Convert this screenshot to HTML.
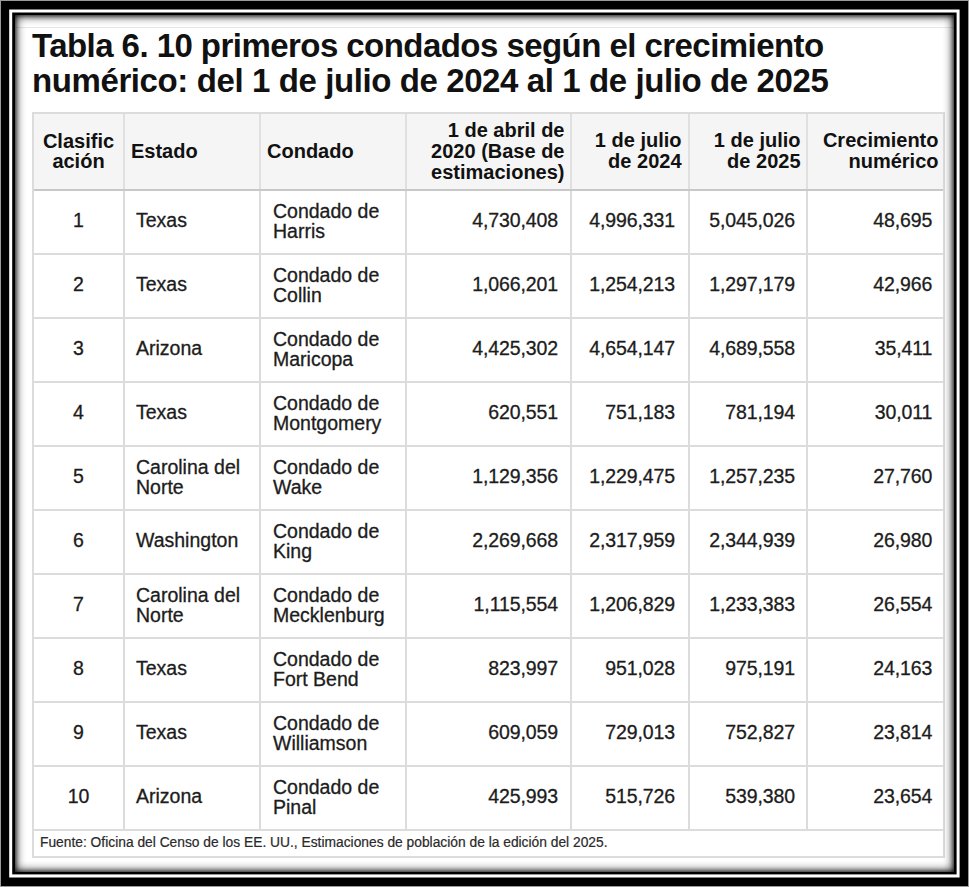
<!DOCTYPE html>
<html><head><meta charset="utf-8"><style>
html,body{margin:0;padding:0;}
body{width:969px;height:887px;overflow:hidden;position:relative;background:#9a9a9a;font-family:"Liberation Sans",sans-serif;}
.r{position:absolute;}
.t{position:absolute;white-space:nowrap;}
.d{-webkit-text-stroke:0.3px currentColor;}
#sh{position:absolute;left:15px;top:15px;width:939px;height:857px;box-shadow:inset 0 0 10px 1px rgba(0,0,0,0.9), inset 0 0 4px 0px rgba(0,0,0,0.75);z-index:5;}
</style></head><body>
<svg width="969" height="887" style="position:absolute;left:0;top:0" shape-rendering="geometricPrecision">
<rect x="0" y="0" width="969" height="887" fill="#9a9a9a"/>
<rect x="1" y="1" width="967" height="885" fill="#000"/>
<rect x="9.2" y="9.5" width="950.4" height="868.0" fill="#fff"/>
<rect x="12.2" y="12.5" width="944.4" height="861.9" fill="#000"/>
<rect x="15" y="15" width="939" height="857" fill="#fff"/>
</svg>
<div class="r" style="left:15px;top:27px;width:939px;height:1px;background:#e6e6e6;"></div>
<div class="t" style="top:27.67px;font-size:33px;line-height:35px;font-weight:bold;color:#111;left:32px;letter-spacing:-0.55px;">Tabla 6. 10 primeros condados según el crecimiento</div>
<div class="t" style="top:62.87px;font-size:33px;line-height:35px;font-weight:bold;color:#111;left:32px;letter-spacing:-0.4px;">numérico: del 1 de julio de 2024 al 1 de julio de 2025</div>
<div class="r" style="left:32px;top:112px;width:913px;height:78px;background:#f5f5f5;"></div>
<div class="r" style="left:32px;top:112px;width:913px;height:2px;background:#dcdcdc;"></div>
<div class="r" style="left:32px;top:189px;width:913px;height:2px;background:#c8c8c8;"></div>
<div class="r" style="left:32px;top:253px;width:913px;height:2px;background:#dcdcdc;"></div>
<div class="r" style="left:32px;top:317px;width:913px;height:2px;background:#dcdcdc;"></div>
<div class="r" style="left:32px;top:381px;width:913px;height:2px;background:#dcdcdc;"></div>
<div class="r" style="left:32px;top:445px;width:913px;height:2px;background:#dcdcdc;"></div>
<div class="r" style="left:32px;top:509px;width:913px;height:2px;background:#dcdcdc;"></div>
<div class="r" style="left:32px;top:573px;width:913px;height:2px;background:#dcdcdc;"></div>
<div class="r" style="left:32px;top:637px;width:913px;height:2px;background:#dcdcdc;"></div>
<div class="r" style="left:32px;top:701px;width:913px;height:2px;background:#dcdcdc;"></div>
<div class="r" style="left:32px;top:765px;width:913px;height:2px;background:#dcdcdc;"></div>
<div class="r" style="left:32px;top:829px;width:913px;height:2px;background:#dcdcdc;"></div>
<div class="r" style="left:32px;top:856px;width:913px;height:2px;background:#dcdcdc;"></div>
<div class="r" style="left:123px;top:114px;width:2px;height:75px;background:#e0e0e0;"></div>
<div class="r" style="left:123px;top:191px;width:2px;height:640px;background:#dcdcdc;"></div>
<div class="r" style="left:259px;top:114px;width:2px;height:75px;background:#e0e0e0;"></div>
<div class="r" style="left:259px;top:191px;width:2px;height:640px;background:#dcdcdc;"></div>
<div class="r" style="left:405px;top:114px;width:2px;height:75px;background:#e0e0e0;"></div>
<div class="r" style="left:405px;top:191px;width:2px;height:640px;background:#dcdcdc;"></div>
<div class="r" style="left:570px;top:114px;width:2px;height:75px;background:#e0e0e0;"></div>
<div class="r" style="left:570px;top:191px;width:2px;height:640px;background:#dcdcdc;"></div>
<div class="r" style="left:688px;top:114px;width:2px;height:75px;background:#e0e0e0;"></div>
<div class="r" style="left:688px;top:191px;width:2px;height:640px;background:#dcdcdc;"></div>
<div class="r" style="left:806px;top:114px;width:2px;height:75px;background:#e0e0e0;"></div>
<div class="r" style="left:806px;top:191px;width:2px;height:640px;background:#dcdcdc;"></div>
<div class="r" style="left:32px;top:112px;width:2px;height:746px;background:#dcdcdc;"></div>
<div class="r" style="left:943px;top:112px;width:2px;height:746px;background:#dcdcdc;"></div>
<div class="t" style="top:130.97px;font-size:20px;line-height:21px;font-weight:bold;color:#111;left:-21.5px;width:200px;text-align:center;">Clasific</div>
<div class="t" style="top:151.37px;font-size:20px;line-height:21px;font-weight:bold;color:#111;left:-21.5px;width:200px;text-align:center;">ación</div>
<div class="t" style="top:141.17px;font-size:20px;line-height:21px;font-weight:bold;color:#111;left:131px;">Estado</div>
<div class="t" style="top:141.17px;font-size:20px;line-height:21px;font-weight:bold;color:#111;left:267px;">Condado</div>
<div class="t" style="top:119.97px;font-size:20px;line-height:21px;font-weight:bold;color:#111;right:404.5px;text-align:right;">1 de abril de</div>
<div class="t" style="top:140.97px;font-size:20px;line-height:21px;font-weight:bold;color:#111;right:404.5px;text-align:right;">2020 (Base de</div>
<div class="t" style="top:161.97px;font-size:20px;line-height:21px;font-weight:bold;color:#111;right:404.5px;text-align:right;">estimaciones)</div>
<div class="t" style="top:130.47px;font-size:20px;line-height:21px;font-weight:bold;color:#111;right:287.5px;text-align:right;">1 de julio</div>
<div class="t" style="top:151.47px;font-size:20px;line-height:21px;font-weight:bold;color:#111;right:287.5px;text-align:right;">de 2024</div>
<div class="t" style="top:130.47px;font-size:20px;line-height:21px;font-weight:bold;color:#111;right:168.5px;text-align:right;">1 de julio</div>
<div class="t" style="top:151.47px;font-size:20px;line-height:21px;font-weight:bold;color:#111;right:168.5px;text-align:right;">de 2025</div>
<div class="t" style="top:130.47px;font-size:20px;line-height:21px;font-weight:bold;color:#111;right:30.5px;text-align:right;">Crecimiento</div>
<div class="t" style="top:151.47px;font-size:20px;line-height:21px;font-weight:bold;color:#111;right:30.5px;text-align:right;">numérico</div>
<div class="t d" style="top:210.04px;font-size:19.5px;line-height:20px;font-weight:normal;color:#1c1c1c;left:-21.5px;width:200px;text-align:center;">1</div>
<div class="t d" style="top:210.04px;font-size:19.5px;line-height:20px;font-weight:normal;color:#1c1c1c;left:136px;">Texas</div>
<div class="t d" style="top:201.04px;font-size:19.5px;line-height:20px;font-weight:normal;color:#1c1c1c;left:273px;">Condado de</div>
<div class="t d" style="top:220.84px;font-size:19.5px;line-height:20px;font-weight:normal;color:#1c1c1c;left:273px;">Harris</div>
<div class="t d" style="top:210.04px;font-size:19.5px;line-height:20px;font-weight:normal;color:#1c1c1c;right:411px;text-align:right;letter-spacing:-0.1px;">4,730,408</div>
<div class="t d" style="top:210.04px;font-size:19.5px;line-height:20px;font-weight:normal;color:#1c1c1c;right:294px;text-align:right;letter-spacing:-0.1px;">4,996,331</div>
<div class="t d" style="top:210.04px;font-size:19.5px;line-height:20px;font-weight:normal;color:#1c1c1c;right:174px;text-align:right;letter-spacing:-0.1px;">5,045,026</div>
<div class="t d" style="top:210.04px;font-size:19.5px;line-height:20px;font-weight:normal;color:#1c1c1c;right:36.700000000000045px;text-align:right;letter-spacing:-0.1px;">48,695</div>
<div class="t d" style="top:274.04px;font-size:19.5px;line-height:20px;font-weight:normal;color:#1c1c1c;left:-21.5px;width:200px;text-align:center;">2</div>
<div class="t d" style="top:274.04px;font-size:19.5px;line-height:20px;font-weight:normal;color:#1c1c1c;left:136px;">Texas</div>
<div class="t d" style="top:265.04px;font-size:19.5px;line-height:20px;font-weight:normal;color:#1c1c1c;left:273px;">Condado de</div>
<div class="t d" style="top:284.84px;font-size:19.5px;line-height:20px;font-weight:normal;color:#1c1c1c;left:273px;">Collin</div>
<div class="t d" style="top:274.04px;font-size:19.5px;line-height:20px;font-weight:normal;color:#1c1c1c;right:411px;text-align:right;letter-spacing:-0.1px;">1,066,201</div>
<div class="t d" style="top:274.04px;font-size:19.5px;line-height:20px;font-weight:normal;color:#1c1c1c;right:294px;text-align:right;letter-spacing:-0.1px;">1,254,213</div>
<div class="t d" style="top:274.04px;font-size:19.5px;line-height:20px;font-weight:normal;color:#1c1c1c;right:174px;text-align:right;letter-spacing:-0.1px;">1,297,179</div>
<div class="t d" style="top:274.04px;font-size:19.5px;line-height:20px;font-weight:normal;color:#1c1c1c;right:36.700000000000045px;text-align:right;letter-spacing:-0.1px;">42,966</div>
<div class="t d" style="top:338.04px;font-size:19.5px;line-height:20px;font-weight:normal;color:#1c1c1c;left:-21.5px;width:200px;text-align:center;">3</div>
<div class="t d" style="top:338.04px;font-size:19.5px;line-height:20px;font-weight:normal;color:#1c1c1c;left:136px;">Arizona</div>
<div class="t d" style="top:329.04px;font-size:19.5px;line-height:20px;font-weight:normal;color:#1c1c1c;left:273px;">Condado de</div>
<div class="t d" style="top:348.84px;font-size:19.5px;line-height:20px;font-weight:normal;color:#1c1c1c;left:273px;">Maricopa</div>
<div class="t d" style="top:338.04px;font-size:19.5px;line-height:20px;font-weight:normal;color:#1c1c1c;right:411px;text-align:right;letter-spacing:-0.1px;">4,425,302</div>
<div class="t d" style="top:338.04px;font-size:19.5px;line-height:20px;font-weight:normal;color:#1c1c1c;right:294px;text-align:right;letter-spacing:-0.1px;">4,654,147</div>
<div class="t d" style="top:338.04px;font-size:19.5px;line-height:20px;font-weight:normal;color:#1c1c1c;right:174px;text-align:right;letter-spacing:-0.1px;">4,689,558</div>
<div class="t d" style="top:338.04px;font-size:19.5px;line-height:20px;font-weight:normal;color:#1c1c1c;right:36.700000000000045px;text-align:right;letter-spacing:-0.1px;">35,411</div>
<div class="t d" style="top:402.04px;font-size:19.5px;line-height:20px;font-weight:normal;color:#1c1c1c;left:-21.5px;width:200px;text-align:center;">4</div>
<div class="t d" style="top:402.04px;font-size:19.5px;line-height:20px;font-weight:normal;color:#1c1c1c;left:136px;">Texas</div>
<div class="t d" style="top:393.04px;font-size:19.5px;line-height:20px;font-weight:normal;color:#1c1c1c;left:273px;">Condado de</div>
<div class="t d" style="top:412.84px;font-size:19.5px;line-height:20px;font-weight:normal;color:#1c1c1c;left:273px;">Montgomery</div>
<div class="t d" style="top:402.04px;font-size:19.5px;line-height:20px;font-weight:normal;color:#1c1c1c;right:411px;text-align:right;letter-spacing:-0.1px;">620,551</div>
<div class="t d" style="top:402.04px;font-size:19.5px;line-height:20px;font-weight:normal;color:#1c1c1c;right:294px;text-align:right;letter-spacing:-0.1px;">751,183</div>
<div class="t d" style="top:402.04px;font-size:19.5px;line-height:20px;font-weight:normal;color:#1c1c1c;right:174px;text-align:right;letter-spacing:-0.1px;">781,194</div>
<div class="t d" style="top:402.04px;font-size:19.5px;line-height:20px;font-weight:normal;color:#1c1c1c;right:36.700000000000045px;text-align:right;letter-spacing:-0.1px;">30,011</div>
<div class="t d" style="top:466.04px;font-size:19.5px;line-height:20px;font-weight:normal;color:#1c1c1c;left:-21.5px;width:200px;text-align:center;">5</div>
<div class="t d" style="top:457.04px;font-size:19.5px;line-height:20px;font-weight:normal;color:#1c1c1c;left:136px;">Carolina del</div>
<div class="t d" style="top:476.84px;font-size:19.5px;line-height:20px;font-weight:normal;color:#1c1c1c;left:136px;">Norte</div>
<div class="t d" style="top:457.04px;font-size:19.5px;line-height:20px;font-weight:normal;color:#1c1c1c;left:273px;">Condado de</div>
<div class="t d" style="top:476.84px;font-size:19.5px;line-height:20px;font-weight:normal;color:#1c1c1c;left:273px;">Wake</div>
<div class="t d" style="top:466.04px;font-size:19.5px;line-height:20px;font-weight:normal;color:#1c1c1c;right:411px;text-align:right;letter-spacing:-0.1px;">1,129,356</div>
<div class="t d" style="top:466.04px;font-size:19.5px;line-height:20px;font-weight:normal;color:#1c1c1c;right:294px;text-align:right;letter-spacing:-0.1px;">1,229,475</div>
<div class="t d" style="top:466.04px;font-size:19.5px;line-height:20px;font-weight:normal;color:#1c1c1c;right:174px;text-align:right;letter-spacing:-0.1px;">1,257,235</div>
<div class="t d" style="top:466.04px;font-size:19.5px;line-height:20px;font-weight:normal;color:#1c1c1c;right:36.700000000000045px;text-align:right;letter-spacing:-0.1px;">27,760</div>
<div class="t d" style="top:530.04px;font-size:19.5px;line-height:20px;font-weight:normal;color:#1c1c1c;left:-21.5px;width:200px;text-align:center;">6</div>
<div class="t d" style="top:530.04px;font-size:19.5px;line-height:20px;font-weight:normal;color:#1c1c1c;left:136px;">Washington</div>
<div class="t d" style="top:521.04px;font-size:19.5px;line-height:20px;font-weight:normal;color:#1c1c1c;left:273px;">Condado de</div>
<div class="t d" style="top:540.84px;font-size:19.5px;line-height:20px;font-weight:normal;color:#1c1c1c;left:273px;">King</div>
<div class="t d" style="top:530.04px;font-size:19.5px;line-height:20px;font-weight:normal;color:#1c1c1c;right:411px;text-align:right;letter-spacing:-0.1px;">2,269,668</div>
<div class="t d" style="top:530.04px;font-size:19.5px;line-height:20px;font-weight:normal;color:#1c1c1c;right:294px;text-align:right;letter-spacing:-0.1px;">2,317,959</div>
<div class="t d" style="top:530.04px;font-size:19.5px;line-height:20px;font-weight:normal;color:#1c1c1c;right:174px;text-align:right;letter-spacing:-0.1px;">2,344,939</div>
<div class="t d" style="top:530.04px;font-size:19.5px;line-height:20px;font-weight:normal;color:#1c1c1c;right:36.700000000000045px;text-align:right;letter-spacing:-0.1px;">26,980</div>
<div class="t d" style="top:594.04px;font-size:19.5px;line-height:20px;font-weight:normal;color:#1c1c1c;left:-21.5px;width:200px;text-align:center;">7</div>
<div class="t d" style="top:585.04px;font-size:19.5px;line-height:20px;font-weight:normal;color:#1c1c1c;left:136px;">Carolina del</div>
<div class="t d" style="top:604.84px;font-size:19.5px;line-height:20px;font-weight:normal;color:#1c1c1c;left:136px;">Norte</div>
<div class="t d" style="top:585.04px;font-size:19.5px;line-height:20px;font-weight:normal;color:#1c1c1c;left:273px;">Condado de</div>
<div class="t d" style="top:604.84px;font-size:19.5px;line-height:20px;font-weight:normal;color:#1c1c1c;left:273px;">Mecklenburg</div>
<div class="t d" style="top:594.04px;font-size:19.5px;line-height:20px;font-weight:normal;color:#1c1c1c;right:411px;text-align:right;letter-spacing:-0.1px;">1,115,554</div>
<div class="t d" style="top:594.04px;font-size:19.5px;line-height:20px;font-weight:normal;color:#1c1c1c;right:294px;text-align:right;letter-spacing:-0.1px;">1,206,829</div>
<div class="t d" style="top:594.04px;font-size:19.5px;line-height:20px;font-weight:normal;color:#1c1c1c;right:174px;text-align:right;letter-spacing:-0.1px;">1,233,383</div>
<div class="t d" style="top:594.04px;font-size:19.5px;line-height:20px;font-weight:normal;color:#1c1c1c;right:36.700000000000045px;text-align:right;letter-spacing:-0.1px;">26,554</div>
<div class="t d" style="top:658.04px;font-size:19.5px;line-height:20px;font-weight:normal;color:#1c1c1c;left:-21.5px;width:200px;text-align:center;">8</div>
<div class="t d" style="top:658.04px;font-size:19.5px;line-height:20px;font-weight:normal;color:#1c1c1c;left:136px;">Texas</div>
<div class="t d" style="top:649.04px;font-size:19.5px;line-height:20px;font-weight:normal;color:#1c1c1c;left:273px;">Condado de</div>
<div class="t d" style="top:668.84px;font-size:19.5px;line-height:20px;font-weight:normal;color:#1c1c1c;left:273px;">Fort Bend</div>
<div class="t d" style="top:658.04px;font-size:19.5px;line-height:20px;font-weight:normal;color:#1c1c1c;right:411px;text-align:right;letter-spacing:-0.1px;">823,997</div>
<div class="t d" style="top:658.04px;font-size:19.5px;line-height:20px;font-weight:normal;color:#1c1c1c;right:294px;text-align:right;letter-spacing:-0.1px;">951,028</div>
<div class="t d" style="top:658.04px;font-size:19.5px;line-height:20px;font-weight:normal;color:#1c1c1c;right:174px;text-align:right;letter-spacing:-0.1px;">975,191</div>
<div class="t d" style="top:658.04px;font-size:19.5px;line-height:20px;font-weight:normal;color:#1c1c1c;right:36.700000000000045px;text-align:right;letter-spacing:-0.1px;">24,163</div>
<div class="t d" style="top:722.04px;font-size:19.5px;line-height:20px;font-weight:normal;color:#1c1c1c;left:-21.5px;width:200px;text-align:center;">9</div>
<div class="t d" style="top:722.04px;font-size:19.5px;line-height:20px;font-weight:normal;color:#1c1c1c;left:136px;">Texas</div>
<div class="t d" style="top:713.04px;font-size:19.5px;line-height:20px;font-weight:normal;color:#1c1c1c;left:273px;">Condado de</div>
<div class="t d" style="top:732.84px;font-size:19.5px;line-height:20px;font-weight:normal;color:#1c1c1c;left:273px;">Williamson</div>
<div class="t d" style="top:722.04px;font-size:19.5px;line-height:20px;font-weight:normal;color:#1c1c1c;right:411px;text-align:right;letter-spacing:-0.1px;">609,059</div>
<div class="t d" style="top:722.04px;font-size:19.5px;line-height:20px;font-weight:normal;color:#1c1c1c;right:294px;text-align:right;letter-spacing:-0.1px;">729,013</div>
<div class="t d" style="top:722.04px;font-size:19.5px;line-height:20px;font-weight:normal;color:#1c1c1c;right:174px;text-align:right;letter-spacing:-0.1px;">752,827</div>
<div class="t d" style="top:722.04px;font-size:19.5px;line-height:20px;font-weight:normal;color:#1c1c1c;right:36.700000000000045px;text-align:right;letter-spacing:-0.1px;">23,814</div>
<div class="t d" style="top:786.04px;font-size:19.5px;line-height:20px;font-weight:normal;color:#1c1c1c;left:-21.5px;width:200px;text-align:center;">10</div>
<div class="t d" style="top:786.04px;font-size:19.5px;line-height:20px;font-weight:normal;color:#1c1c1c;left:136px;">Arizona</div>
<div class="t d" style="top:777.04px;font-size:19.5px;line-height:20px;font-weight:normal;color:#1c1c1c;left:273px;">Condado de</div>
<div class="t d" style="top:796.84px;font-size:19.5px;line-height:20px;font-weight:normal;color:#1c1c1c;left:273px;">Pinal</div>
<div class="t d" style="top:786.04px;font-size:19.5px;line-height:20px;font-weight:normal;color:#1c1c1c;right:411px;text-align:right;letter-spacing:-0.1px;">425,993</div>
<div class="t d" style="top:786.04px;font-size:19.5px;line-height:20px;font-weight:normal;color:#1c1c1c;right:294px;text-align:right;letter-spacing:-0.1px;">515,726</div>
<div class="t d" style="top:786.04px;font-size:19.5px;line-height:20px;font-weight:normal;color:#1c1c1c;right:174px;text-align:right;letter-spacing:-0.1px;">539,380</div>
<div class="t d" style="top:786.04px;font-size:19.5px;line-height:20px;font-weight:normal;color:#1c1c1c;right:36.700000000000045px;text-align:right;letter-spacing:-0.1px;">23,654</div>
<div class="t" style="top:835.22px;font-size:13.8px;line-height:16px;font-weight:normal;color:#2a2a2a;left:40px;-webkit-text-stroke:0.2px currentColor;">Fuente: Oficina del Censo de los EE. UU., Estimaciones de población de la edición del 2025.</div>
<div id="sh"></div>
</body></html>
